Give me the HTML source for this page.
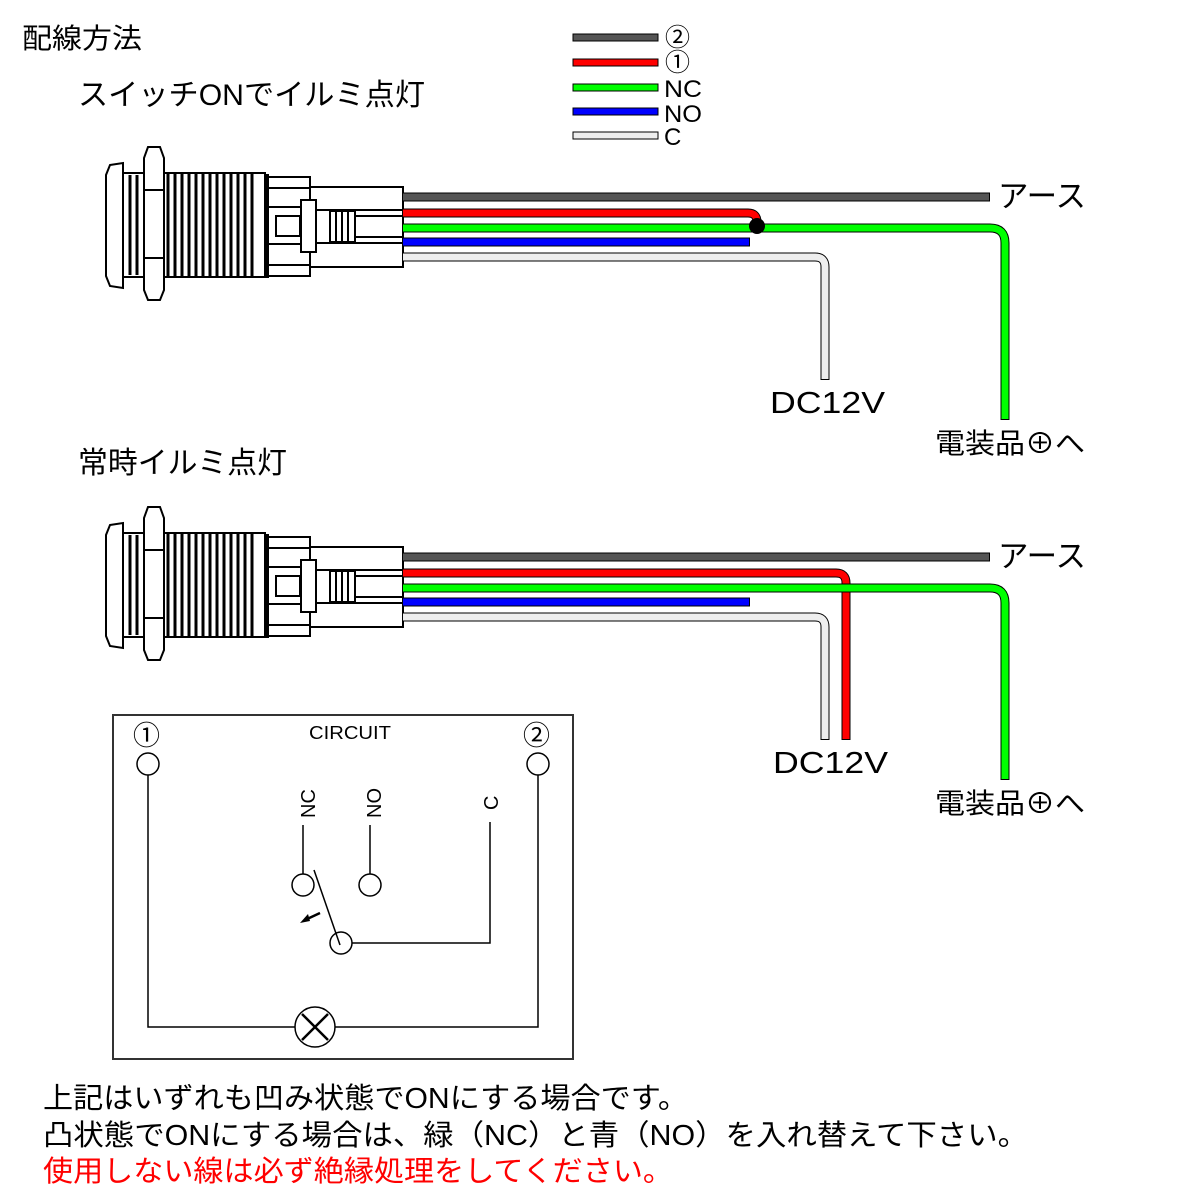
<!DOCTYPE html>
<html><head><meta charset="utf-8"><style>
html,body{margin:0;padding:0;background:#fff;}
svg{display:block;}
text{font-family:"Liberation Sans","Noto Sans CJK JP",sans-serif;fill:#000;}
</style></head><body>
<svg width="1200" height="1200" viewBox="0 0 1200 1200" xmlns="http://www.w3.org/2000/svg">
<defs>
<g id="sw" stroke="#000" fill="#fff" stroke-width="2">
  <path d="M110,165 L123,163 L123,288 L110,286 L106,276 L106,175 Z"/>
  <rect x="123" y="173" width="142" height="104"/>
  <path d="M148,147 L160,147 L164,158 L164,290 L160,300 L148,300 L144,290 L144,158 Z"/>
  <line x1="145" y1="190" x2="163" y2="190"/><line x1="145" y1="258" x2="163" y2="258"/>
  <g stroke-width="3">
    <line x1="130" y1="175" x2="130" y2="275"/><line x1="137" y1="175" x2="137" y2="275"/>
    <line x1="168" y1="173" x2="168" y2="277"/><line x1="175" y1="173" x2="175" y2="277"/>
    <line x1="182" y1="173" x2="182" y2="277"/><line x1="189" y1="173" x2="189" y2="277"/>
    <line x1="196" y1="173" x2="196" y2="277"/><line x1="203" y1="173" x2="203" y2="277"/>
    <line x1="210" y1="173" x2="210" y2="277"/><line x1="217" y1="173" x2="217" y2="277"/>
    <line x1="224" y1="173" x2="224" y2="277"/><line x1="231" y1="173" x2="231" y2="277"/>
    <line x1="238" y1="173" x2="238" y2="277"/><line x1="245" y1="173" x2="245" y2="277"/>
    <line x1="252" y1="173" x2="252" y2="277"/>
  </g>
  <rect x="265" y="175" width="3" height="102" fill="#000"/>
  <rect x="268" y="177" width="42" height="99"/>
  <line x1="268" y1="188" x2="310" y2="188"/><line x1="268" y1="265" x2="310" y2="265"/>
  <line x1="268" y1="207" x2="300" y2="207"/><line x1="268" y1="244" x2="300" y2="244"/>
  <rect x="276" y="216" width="24" height="20"/>
  <rect x="310" y="187" width="93" height="80"/>
  <rect x="301" y="200" width="15" height="52"/>
  <line x1="316" y1="200" x2="316" y2="252"/>
  <line x1="316" y1="210" x2="403" y2="210"/><line x1="316" y1="243" x2="403" y2="243"/>
  <rect x="330" y="211" width="25" height="31"/>
  <line x1="336" y1="211" x2="336" y2="242"/><line x1="342" y1="211" x2="342" y2="242"/><line x1="348" y1="211" x2="348" y2="242"/>
  <line x1="355" y1="216" x2="403" y2="216"/><line x1="355" y1="237" x2="403" y2="237"/>
</g>
</defs>

<text x="22" y="48" font-size="28" textLength="120" lengthAdjust="spacingAndGlyphs">配線方法</text>
<text x="78" y="105" font-size="30" textLength="347" lengthAdjust="spacingAndGlyphs">スイッチONでイルミ点灯</text>
<text x="78" y="473" font-size="30" textLength="209" lengthAdjust="spacingAndGlyphs">常時イルミ点灯</text>

<g stroke="#000" stroke-width="1">
<rect x="573" y="34" width="85" height="7" fill="#555"/>
<rect x="573" y="59" width="85" height="7" fill="#f00"/>
<rect x="573" y="84" width="85" height="7" fill="#0f0"/>
<rect x="573" y="108" width="85" height="7" fill="#00f"/>
<rect x="573" y="132" width="85" height="7" fill="#eee"/>
</g>
<text x="665" y="46" font-size="25">②</text>
<text x="665" y="71" font-size="25">①</text>
<text x="664" y="97" font-size="24" textLength="38" lengthAdjust="spacingAndGlyphs">NC</text>
<text x="664" y="122" font-size="24" textLength="38" lengthAdjust="spacingAndGlyphs">NO</text>
<text x="664" y="145" font-size="24">C</text>

<use href="#sw"/>
<g fill="none" stroke-linejoin="round">
  <path d="M403,197 H990" stroke="#000" stroke-width="9"/><path d="M403,197 H989" stroke="#555" stroke-width="7"/>
  <path d="M403,257 H815 Q825,257 825,267 V380" stroke="#000" stroke-width="9"/><path d="M403,257 H815 Q825,257 825,267 V379" stroke="#eee" stroke-width="7"/>
  <path d="M403,242 H750" stroke="#000" stroke-width="9"/><path d="M403,242 H749" stroke="#00f" stroke-width="7"/>
  <path d="M403,228 H990 Q1005,228 1005,243 V420" stroke="#000" stroke-width="9"/><path d="M403,228 H990 Q1005,228 1005,243 V419" stroke="#0f0" stroke-width="7"/>
  <path d="M403,213 H748 Q757,213 757,222" stroke="#000" stroke-width="9"/><path d="M403,213 H748 Q757,213 757,222" stroke="#f00" stroke-width="7"/>
</g>
<circle cx="757" cy="226" r="8" fill="#000"/>
<text x="998" y="207" font-size="31" textLength="88" lengthAdjust="spacingAndGlyphs">アース</text>
<text x="770" y="413" font-size="31" textLength="115" lengthAdjust="spacingAndGlyphs">DC12V</text>
<text x="935" y="453" font-size="28" textLength="150" lengthAdjust="spacingAndGlyphs">電装品⊕へ</text>

<use href="#sw" transform="translate(0,360)"/>
<g fill="none" stroke-linejoin="round">
  <path d="M403,557 H990" stroke="#000" stroke-width="9"/><path d="M403,557 H989" stroke="#555" stroke-width="7"/>
  <path d="M403,617 H815 Q825,617 825,627 V740" stroke="#000" stroke-width="9"/><path d="M403,617 H815 Q825,617 825,627 V739" stroke="#eee" stroke-width="7"/>
  <path d="M403,602 H750" stroke="#000" stroke-width="9"/><path d="M403,602 H749" stroke="#00f" stroke-width="7"/>
  <path d="M403,573 H836 Q846,573 846,583 V740" stroke="#000" stroke-width="9"/><path d="M403,573 H836 Q846,573 846,583 V739" stroke="#f00" stroke-width="7"/>
  <path d="M403,588 H990 Q1005,588 1005,603 V780" stroke="#000" stroke-width="9"/><path d="M403,588 H990 Q1005,588 1005,603 V779" stroke="#0f0" stroke-width="7"/>
</g>
<text x="998" y="567" font-size="31" textLength="88" lengthAdjust="spacingAndGlyphs">アース</text>
<text x="773" y="773" font-size="31" textLength="115" lengthAdjust="spacingAndGlyphs">DC12V</text>
<text x="935" y="813" font-size="28" textLength="150" lengthAdjust="spacingAndGlyphs">電装品⊕へ</text>

<rect x="113" y="715" width="460" height="344" fill="none" stroke="#333" stroke-width="2"/>
<text x="309" y="739" font-size="18" fill="#222" textLength="82" lengthAdjust="spacingAndGlyphs">CIRCUIT</text>
<text x="133" y="745" font-size="27">①</text>
<text x="523" y="745" font-size="27">②</text>
<g fill="none" stroke="#000" stroke-width="1.5">
  <circle cx="148" cy="764" r="11"/><circle cx="538" cy="764" r="11"/>
  <path d="M148,775 V1027 H295"/><path d="M538,775 V1027 H335"/>
  <circle cx="315" cy="1027" r="20"/>
  <path d="M302,1014 L328,1040 M328,1014 L302,1040" stroke-width="2.5"/>
  <circle cx="303" cy="885" r="11"/><circle cx="370" cy="885" r="11"/>
  <path d="M303,825 V874"/><path d="M370,825 V874"/>
  <circle cx="341" cy="943" r="11"/>
  <path d="M352,943 H490 V822"/>
  <path d="M314,870 L340,945"/>
</g>
<path d="M320,913 L305,920" stroke="#000" stroke-width="2.5"/>
<path d="M300,923 L308,914 L310,921 Z" fill="#000"/>
<text transform="translate(315,818) rotate(-90)" font-size="20">NC</text>
<text transform="translate(381,818) rotate(-90)" font-size="20">NO</text>
<text transform="translate(498,810) rotate(-90)" font-size="20">C</text>

<text x="43" y="1108" font-size="29" textLength="645" lengthAdjust="spacingAndGlyphs">上記はいずれも凹み状態でONにする場合です。</text>
<text x="43" y="1145" font-size="29" textLength="985" lengthAdjust="spacingAndGlyphs">凸状態でONにする場合は、緑（NC）と青（NO）を入れ替えて下さい。</text>
<text x="43" y="1181" font-size="29" style="fill:#f00" textLength="630" lengthAdjust="spacingAndGlyphs">使用しない線は必ず絶縁処理をしてください。</text>
</svg>
</body></html>
